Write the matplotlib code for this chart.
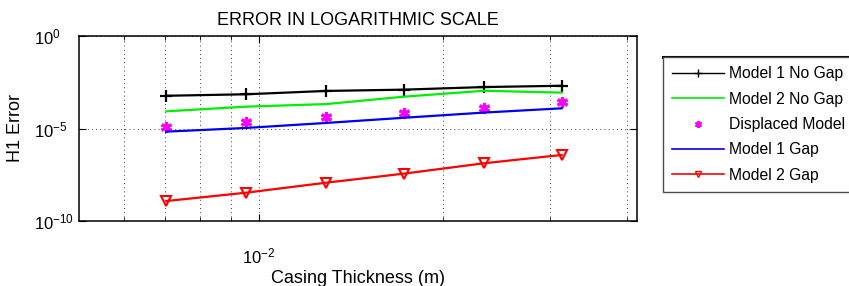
import numpy as np
import matplotlib.pyplot as plt
from matplotlib.lines import Line2D
from matplotlib.ticker import LogLocator, NullFormatter, FixedLocator

plt.rcParams['font.family'] = ['Liberation Sans', 'DejaVu Sans']
plt.rcParams['mathtext.fontset'] = 'custom'
plt.rcParams['mathtext.rm'] = 'Liberation Sans'

# casing thickness (m)
thickness = [0.00705, 0.00952, 0.01287, 0.01727, 0.02334, 0.0313]

# H1 error per model
m1_nogap = [10**-3.23, 10**-3.15, 10**-2.97, 10**-2.90, 10**-2.76, 10**-2.69]
m2_nogap = [10**-4.07, 10**-3.82, 10**-3.68, 10**-3.28, 10**-2.96, 10**-3.06]
displaced = [10**-4.94, 10**-4.63, 10**-4.38, 10**-4.14, 10**-3.91, 10**-3.59]
m1_gap = [10**-5.17, 10**-4.97, 10**-4.70, 10**-4.42, 10**-4.14, 10**-3.91]
m2_gap = [10**-8.92, 10**-8.47, 10**-7.93, 10**-7.44, 10**-6.88, 10**-6.43]

labels = ['Model 1 No Gap', 'Model 2 No Gap', 'Displaced Model', 'Model 1 Gap', 'Model 2 Gap']

fig = plt.figure(figsize=(8.49, 2.86), dpi=100)
ax = fig.add_axes([79/849, 65/286, 558/849, 185/286])

ax.loglog(thickness, m1_nogap, color='black', lw=1.6, marker='+', ms=8, mew=1.6)
ax.loglog(thickness, m2_nogap, color='#00ee00', lw=1.6)
ax.loglog(thickness, displaced, ls='none', color='magenta', marker=(6, 2, 0), ms=8, mew=2.2)
ax.loglog(thickness, m1_gap, color='#0000ee', lw=1.6)
ax.loglog(thickness, m2_gap, color='red', lw=1.6, marker='v', ms=7, mfc='none', mew=1.5)

ax.set_xlim(5.07e-3, 4.16e-2)
ax.set_ylim(1e-10, 1)
ax.yaxis.set_major_locator(FixedLocator([1e-10, 1e-5, 1]))
ax.yaxis.set_minor_locator(FixedLocator([]))
ax.xaxis.set_major_locator(FixedLocator([1e-2]))
ax.xaxis.set_minor_locator(LogLocator(base=10, subs=np.arange(2, 10)))
ax.xaxis.set_minor_formatter(NullFormatter())

ax.grid(True, which='both', axis='x', ls=(0, (1, 4)), color='black', lw=0.6)
ax.grid(True, which='major', axis='y', ls=(0, (1, 4)), color='black', lw=0.6)

ax.tick_params(which='both', direction='in', top=True, right=True, labelsize=12)
ax.tick_params(which='major', length=5)
ax.tick_params(which='minor', length=3)
ax.tick_params(axis='x', pad=18)
ax.tick_params(axis='y', pad=32.5)
for lbl in ax.get_yticklabels():
    lbl.set_horizontalalignment('left')
for s in ax.spines.values():
    s.set_linewidth(1.1)

ax.set_title('ERROR IN LOGARITHMIC SCALE', fontsize=13, pad=8)
ax.set_xlabel('Casing Thickness (m)', fontsize=13, labelpad=3)
ax.set_ylabel('H1 Error', fontsize=13, labelpad=7)

handles = [
    Line2D([0, 0.5, 1], [0, 0, 0], color='black', lw=1, marker='+', ms=6, mew=1, markevery=[1]),
    Line2D([], [], color='#00ee00', lw=1.2),
    Line2D([], [], ls='none', color='magenta', marker=(6, 2, 0), ms=5, mew=1.5),
    Line2D([], [], color='#0000ee', lw=1.2),
    Line2D([0, 0.5, 1], [0, 0, 0], color='red', lw=1.2, marker='v', ms=5, mfc='none', mew=1, markevery=[1]),
]

leg = fig.legend(handles, labels, loc='upper left',
                 bbox_to_anchor=(663/849, 1 - 192/286, 200/849, 135/286),
                 mode='expand', borderaxespad=0, fontsize=11.3, fancybox=False,
                 handlelength=3.3, handletextpad=0.3, labelspacing=0.66,
                 borderpad=0.6, framealpha=1)
leg.get_frame().set_edgecolor('0.3')
leg.get_frame().set_linewidth(1)
fig.add_artist(Line2D([663/849, 1], [1 - 57/286] * 2, color='black', lw=2.2,
                      transform=fig.transFigure))

fig.savefig('out.png', dpi=100)
